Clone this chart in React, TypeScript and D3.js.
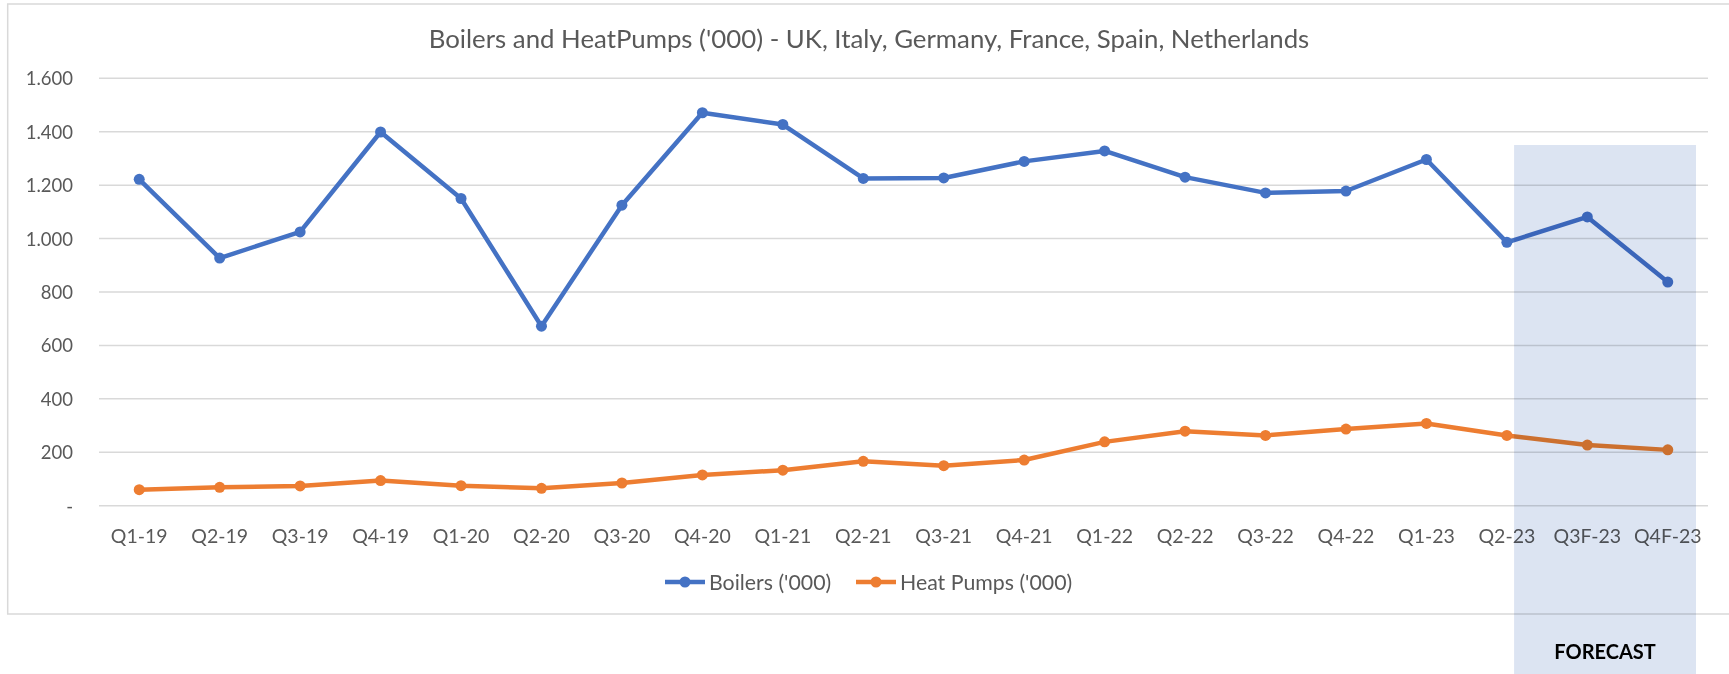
import * as d3 from "d3";
import { useEffect, useRef } from "react";

const quarters = [
  "Q1-19", "Q2-19", "Q3-19", "Q4-19", "Q1-20", "Q2-20", "Q3-20", "Q4-20",
  "Q1-21", "Q2-21", "Q3-21", "Q4-21", "Q1-22", "Q2-22", "Q3-22", "Q4-22",
  "Q1-23", "Q2-23", "Q3F-23", "Q4F-23",
];
const boilers = [
  1222, 927, 1025, 1399, 1150, 672, 1125, 1471,
  1427, 1225, 1227, 1289, 1328, 1230, 1171, 1178,
  1296, 986, 1081, 837,
];
const heatPumps = [
  60, 69, 74, 94, 75, 65, 85, 115,
  133, 166, 150, 171, 239, 279, 263, 287,
  308, 263, 227, 209,
];
const yTicks = [0, 200, 400, 600, 800, 1000, 1200, 1400, 1600];
const forecastFrom = "Q3F-23";
const forecastTo = "Q4F-23";

const seriesList = [
  { name: "Boilers ('000)", values: boilers, color: "#4472C4" },
  { name: "Heat Pumps ('000)", values: heatPumps, color: "#ED7D31" },
];

const W = 1729;
const H = 674;
const font = "Lato, 'Open Sans', sans-serif";
const textGrey = "#595959";

const redraw = (ref) => {
  const svg = d3.select(ref.current);
  svg.selectAll("*").remove();

  const x = d3.scaleBand().domain(quarters).range([99, 1708]);
  const y = d3.scaleLinear().domain([0, 1600]).range([505.7, 78.3]);
  const cx = (q) => x(q) + x.bandwidth() / 2;

  // chart frame (right side runs past the picture)
  svg.append("rect")
    .attr("x", 7.7).attr("y", 4)
    .attr("width", W + 40).attr("height", 610)
    .attr("fill", "white")
    .attr("stroke", "#d9d9d9").attr("stroke-width", 1.5);

  svg.append("text")
    .attr("x", 869).attr("y", 48)
    .attr("text-anchor", "middle")
    .attr("font-family", font).attr("font-size", 25.8)
    .attr("fill", textGrey)
    .text("Boilers and HeatPumps ('000) - UK, Italy, Germany, France, Spain, Netherlands");

  // gridlines
  svg.append("g").selectAll("line").data(yTicks).enter().append("line")
    .attr("x1", 99).attr("x2", 1708)
    .attr("y1", d => y(d)).attr("y2", d => y(d))
    .attr("stroke", "#d9d9d9").attr("stroke-width", 1.5);

  const fmt = (v) => v === 0 ? "-" : d3.format(",")(v).replace(",", ".");
  svg.append("g").selectAll("text").data(yTicks).enter().append("text")
    .attr("x", 73).attr("y", d => y(d) + 7)
    .attr("text-anchor", "end")
    .attr("font-family", font).attr("font-size", 18.5)
    .attr("fill", textGrey)
    .text(d => fmt(d));

  svg.append("g").selectAll("text").data(quarters).enter().append("text")
    .attr("x", d => cx(d)).attr("y", 543)
    .attr("text-anchor", "middle")
    .attr("font-family", font).attr("font-size", 19.5)
    .attr("fill", textGrey)
    .text(d => d);

  const line = d3.line().x((d, i) => cx(quarters[i])).y(d => y(d));
  seriesList.forEach((s) => {
    svg.append("path")
      .datum(s.values)
      .attr("d", line)
      .attr("fill", "none")
      .attr("stroke", s.color).attr("stroke-width", 4.5)
      .attr("stroke-linejoin", "round").attr("stroke-linecap", "round");
    svg.append("g").selectAll("circle").data(s.values).enter().append("circle")
      .attr("cx", (d, i) => cx(quarters[i]))
      .attr("cy", d => y(d))
      .attr("r", 5.5)
      .attr("fill", s.color);
  });

  // legend
  const legendX = [665, 856];
  seriesList.forEach((s, i) => {
    const g = svg.append("g").attr("transform", `translate(${legendX[i]},582)`);
    g.append("line").attr("x1", 0).attr("x2", 40)
      .attr("stroke", s.color).attr("stroke-width", 4.5);
    g.append("circle").attr("cx", 20).attr("r", 5.5).attr("fill", s.color);
    g.append("text").attr("x", 44).attr("y", 7.5)
      .attr("font-family", font).attr("font-size", 21.3)
      .attr("fill", textGrey)
      .text(s.name);
  });

  // forecast shading over the last quarters (multiplied so lines stay strong)
  const fx0 = x(forecastFrom) - 33;
  const fx1 = x(forecastTo) + x.bandwidth() - 12;
  svg.append("rect")
    .attr("x", fx0).attr("y", 145)
    .attr("width", fx1 - fx0).attr("height", H - 145)
    .attr("fill", "rgb(220,228,242)")
    .style("mix-blend-mode", "multiply");
  svg.append("text")
    .attr("x", (fx0 + fx1) / 2).attr("y", 659)
    .attr("text-anchor", "middle")
    .attr("font-family", font).attr("font-size", 20).attr("font-weight", "bold")
    .attr("fill", "#000")
    .text("FORECAST");
};

export default function App() {
  const ref = useRef(null);

  useEffect(() => {
    redraw(ref);
  }, []);

  return (
    <svg ref={ref} width={W} height={H}
      style={{ position: "absolute", left: 0, top: 0, background: "white" }} />
  );
}
